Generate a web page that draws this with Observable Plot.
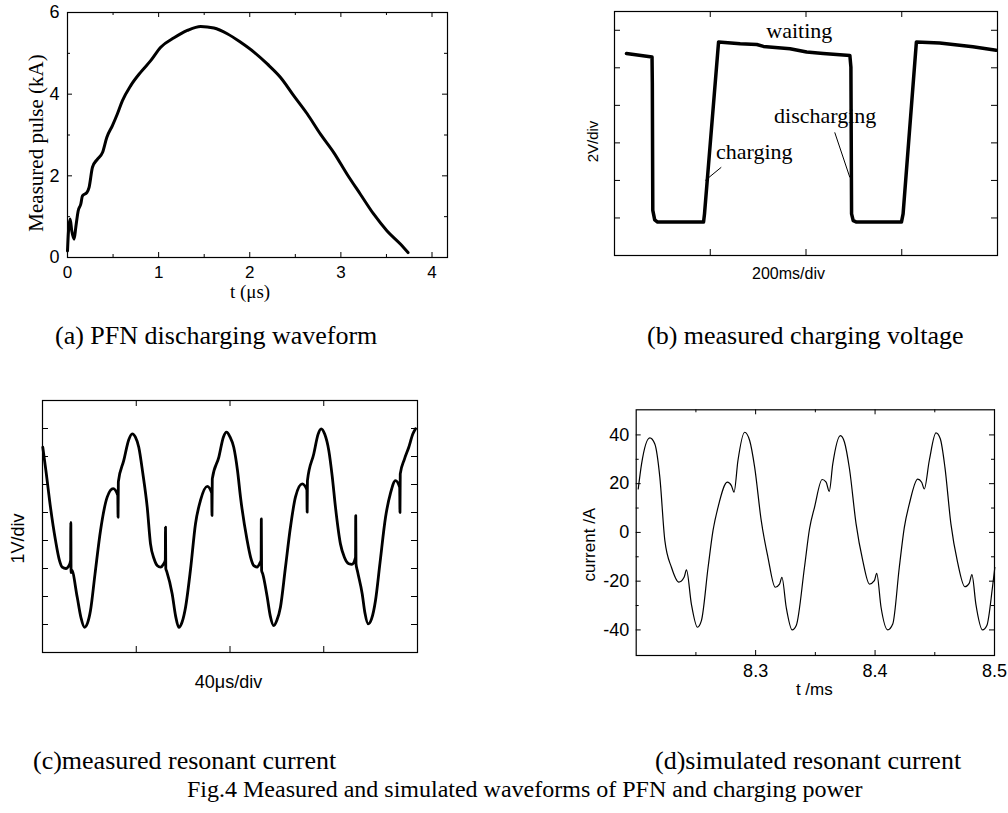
<!DOCTYPE html>
<html><head><meta charset="utf-8">
<script src="https://cdn.jsdelivr.net/npm/d3@7"></script>
<script src="https://cdn.jsdelivr.net/npm/@observablehq/plot@0.6"></script>
<style>
body{margin:0;background:#fff;}
#page{position:relative;width:1008px;height:813px;overflow:hidden;background:#fff;}
.panel{position:absolute;}
.cap{position:absolute;font-family:"Liberation Serif","Times New Roman",serif;font-size:26px;line-height:26px;white-space:nowrap;color:#000;}
</style></head><body><div id="page"></div>
<script>
// ---------- Panel (a): PFN discharging waveform ----------
const aTime = [0, 0.011, 0.029, 0.047, 0.073, 0.091, 0.117, 0.146, 0.164, 0.212, 0.237, 0.274, 0.329, 0.384, 0.431, 0.493, 0.548, 0.603, 0.694, 0.804, 0.913, 1.023, 1.169, 1.315, 1.461, 1.607, 1.753, 1.9, 2.046, 2.192, 2.338, 2.484, 2.63, 2.776, 2.922, 3.068, 3.214, 3.361, 3.507, 3.653, 3.737];
const aPulse = [0.16, 0.65, 0.94, 0.65, 0.45, 0.74, 1.14, 1.31, 1.51, 1.59, 1.72, 2.21, 2.41, 2.57, 2.94, 3.23, 3.52, 3.84, 4.21, 4.54, 4.82, 5.15, 5.38, 5.56, 5.66, 5.62, 5.48, 5.27, 5.03, 4.74, 4.41, 3.96, 3.52, 3.02, 2.57, 2.04, 1.55, 1.06, 0.65, 0.33, 0.12];
const aXMajor = [0, 1, 2, 3, 4];
const aXMinor = [0.5, 1.5, 2.5, 3.5];
const aYMajor = [0, 2, 4, 6];
const aYMinor = [1, 3, 5];

// ---------- Panel (b): measured charging voltage (divisions) ----------
const bDiv = [0.125, 0.392, 0.395, 0.40, 0.42, 0.45, 0.93, 0.94, 1.087, 1.3125, 1.486, 1.556, 1.833, 2.007, 2.18, 2.458, 2.469, 2.476, 2.493, 2.528, 2.997, 3.014, 3.153, 3.396, 3.743, 3.986];
const bVolt = [5.38, 5.29, 4.6, 1.2, 0.95, 0.89, 0.89, 1.11, 5.69, 5.64, 5.62, 5.57, 5.51, 5.42, 5.38, 5.33, 5.02, 1.11, 0.93, 0.89, 0.89, 1.11, 5.69, 5.66, 5.56, 5.47];
const bXTicks = [1, 2, 3];
const bYTicks = [1, 2, 3, 4, 5, 6];
const bNotes = ["waiting", "discharging", "charging"];
const bNoteX = [1.93, 2.20, 1.46];
const bNoteY = [5.97, 3.71, 2.77];
const bLeadX1 = [0.948, 2.30];
const bLeadY1 = [2.0, 3.28];
const bLeadX2 = [1.115, 2.458];
const bLeadY2 = [2.35, 2.08];

// ---------- Panel (c): measured resonant current (divisions) ----------
const cDiv = [0.003, 0.04, 0.085, 0.139, 0.18, 0.21, 0.25, 0.285, 0.300, 0.302, 0.305, 0.31, 0.37, 0.41, 0.448, 0.48, 0.512, 0.56, 0.619, 0.69, 0.754, 0.803, 0.806, 0.809, 0.867, 0.92, 0.957, 0.99, 1.027, 1.07, 1.117, 1.152, 1.19, 1.223, 1.26, 1.29, 1.31, 1.312, 1.315, 1.325, 1.383, 1.42, 1.454, 1.49, 1.526, 1.58, 1.632, 1.685, 1.757, 1.805, 1.808, 1.811, 1.881, 1.93, 1.963, 2.0, 2.04, 2.08, 2.112, 2.183, 2.22, 2.254, 2.29, 2.32, 2.332, 2.334, 2.337, 2.35, 2.397, 2.43, 2.467, 2.50, 2.538, 2.59, 2.645, 2.698, 2.77, 2.82, 2.823, 2.826, 2.894, 2.94, 2.973, 3.01, 3.054, 3.09, 3.125, 3.178, 3.22, 3.267, 3.30, 3.339, 3.341, 3.344, 3.36, 3.41, 3.44, 3.474, 3.51, 3.552, 3.60, 3.659, 3.712, 3.765, 3.81, 3.813, 3.816, 3.86, 3.907, 3.95, 3.979];
const cVolt = [7.33, 6.4, 5.19, 4.0, 3.3, 3.05, 3.0, 3.12, 3.3, 4.65, 2.85, 2.95, 1.98, 1.25, 0.90, 1.05, 1.5, 2.8, 4.36, 5.55, 5.85, 5.61, 4.83, 6.1, 6.86, 7.6, 7.81, 7.7, 7.33, 6.4, 5.19, 3.88, 3.35, 3.11, 3.05, 3.15, 3.3, 4.48, 3.0, 2.9, 2.10, 1.3, 0.90, 1.1, 1.62, 3.0, 4.6, 5.43, 5.93, 5.69, 4.89, 6.2, 6.98, 7.7, 7.87, 7.7, 7.33, 6.5, 5.55, 4.0, 3.4, 3.1, 3.05, 3.2, 3.29, 4.77, 2.93, 2.8, 1.98, 1.3, 0.96, 1.15, 1.62, 3.0, 4.48, 5.55, 6.02, 5.81, 5.01, 6.14, 7.1, 7.8, 7.99, 7.8, 7.21, 6.3, 5.19, 3.88, 3.4, 3.17, 3.15, 3.4, 4.89, 3.17, 2.9, 2.10, 1.4, 1.02, 1.2, 1.86, 3.2, 4.83, 5.69, 6.14, 5.9, 5.0, 6.38, 6.9, 7.33, 7.8, 7.99];
const cXTicks = [1, 2, 3];
const cYTicks = [1, 2, 3, 4, 5, 6, 7, 8];

// ---------- Panel (d): simulated resonant current ----------
const dTime = [8.2017, 8.2045, 8.2114, 8.2156, 8.2198, 8.224, 8.2295, 8.2357, 8.2401, 8.2421, 8.2462, 8.2513, 8.2546, 8.2602, 8.2643, 8.2685, 8.2763, 8.2797, 8.2819, 8.2852, 8.2908, 8.295, 8.2992, 8.3047, 8.3103, 8.3164, 8.32, 8.322, 8.3256, 8.3306, 8.334, 8.3409, 8.3451, 8.3493, 8.3557, 8.359, 8.3616, 8.3646, 8.371, 8.3744, 8.3786, 8.3841, 8.3897, 8.3953, 8.3994, 8.4014, 8.405, 8.4106, 8.4148, 8.4203, 8.4245, 8.4287, 8.4357, 8.439, 8.4412, 8.4454, 8.451, 8.4546, 8.4585, 8.4635, 8.4691, 8.4752, 8.4788, 8.4811, 8.4844, 8.49, 8.4936, 8.4983, 8.5003];
const dCurrent = [17.8, 28.1, 38.8, 36.3, 22.6, -3.4, -14.3, -20.4, -18.4, -15.4, -29.4, -38.9, -36.2, -14.3, 0.7, 10.3, 20.6, 19.2, 16.5, 29.5, 41.1, 37.7, 26.7, 4.8, -10.2, -22.5, -21.2, -18.4, -30.7, -40.0, -38.2, -14.3, 1.4, 10.3, 21.7, 20.6, 16.8, 28.1, 39.7, 37.0, 26.0, 3.5, -11.6, -21.2, -19.8, -16.8, -30.7, -40.0, -37.6, -14.3, 2.1, 11.7, 21.9, 20.6, 17.8, 29.5, 40.8, 38.4, 26.7, 3.5, -12.3, -22.3, -20.9, -17.3, -29.4, -40.0, -38.2, -22.5, -14.3];
const dXMajor = [8.3, 8.4, 8.5];
const dXMinor = [8.25, 8.35, 8.45];
const dYMajor = [-40, -20, 0, 20, 40];
const dYMinor = [-30, -10, 10, 30];

// ---------- Text ----------
const captions = ["(a) PFN discharging waveform", "(b) measured charging voltage", "(c)measured resonant current", "(d)simulated resonant current", "Fig.4 Measured and simulated waveforms of PFN and charging power"];

const SANS = "Liberation Sans, Arial, sans-serif";
const SERIF = "Liberation Serif, Times New Roman, serif";
const page = document.getElementById("page");

function inwardTicks(xs, ys, len, innerW, innerH) {
  const marks = [];
  if (xs && xs.length) {
    marks.push(Plot.tickX(xs, {x: d => d, insetTop: innerH - len, stroke: "black", strokeWidth: 1}));
    marks.push(Plot.tickX(xs, {x: d => d, insetBottom: innerH - len, stroke: "black", strokeWidth: 1}));
  }
  if (ys && ys.length) {
    marks.push(Plot.tickY(ys, {y: d => d, insetRight: innerW - len, stroke: "black", strokeWidth: 1}));
    marks.push(Plot.tickY(ys, {y: d => d, insetLeft: innerW - len, stroke: "black", strokeWidth: 1}));
  }
  return marks;
}

function yTitle(t, dx, dy, family, size) {
  return Plot.text([t], {frameAnchor: "left", dx, dy, rotate: -90, text: d => d, fontFamily: family, fontSize: size, textAnchor: "middle", lineAnchor: "middle"});
}
function xTitle(t, dx, dy, family, size) {
  return Plot.text([t], {frameAnchor: "bottom", dx, dy, text: d => d, fontFamily: family, fontSize: size, textAnchor: "middle", lineAnchor: "top"});
}

function place(svg, left, top) {
  const div = document.createElement("div");
  div.className = "panel";
  div.style.left = left + "px";
  div.style.top = top + "px";
  div.appendChild(svg);
  page.appendChild(div);
}

// Panel (a)
{
  const W = 460, H = 306, m = {l: 67, r: 13, t: 12, b: 49};
  const iw = W - m.l - m.r, ih = H - m.t - m.b;
  const svg = Plot.plot({
    width: W, height: H, marginLeft: m.l, marginRight: m.r, marginTop: m.t, marginBottom: m.b,
    style: {fontFamily: SANS, fontSize: "17px", background: "white", color: "black"},
    x: {domain: [0, 4.17]}, y: {domain: [0, 6]},
    marks: [
      ...inwardTicks(aXMajor, aYMajor, 5, iw, ih),
      ...inwardTicks(aXMinor, aYMinor, 3, iw, ih),
      Plot.axisX({ticks: aXMajor, tickSize: 0, tickPadding: 8, tickFormat: d => String(d), label: null, fontSize: 17}),
      Plot.axisY({ticks: aYMajor, tickSize: 0, tickPadding: 8, tickFormat: d => String(d), label: null, fontSize: 18}),
      Plot.line(aTime.map((t, i) => [t, aPulse[i]]), {x: d => d[0], y: d => d[1], stroke: "black", strokeWidth: 3, curve: "monotone-x"}),
      Plot.frame({stroke: "black", strokeWidth: 1.2}),
      yTitle("Measured pulse (kA)", -31.5, 8, SERIF, 21),
      xTitle("t (\u03bcs)", -7.5, 27, SERIF, 19)
    ]
  });
  place(svg, 0, 0);
}

// Panel (b)
{
  const W = 438, H = 300, m = {l: 44, r: 11, t: 11, b: 45};
  const iw = W - m.l - m.r, ih = H - m.t - m.b;
  const svg = Plot.plot({
    width: W, height: H, marginLeft: m.l, marginRight: m.r, marginTop: m.t, marginBottom: m.b,
    style: {fontFamily: SANS, fontSize: "16px", background: "white", color: "black"},
    x: {domain: [0, 4], axis: null}, y: {domain: [0, 6.5], axis: null},
    marks: [
      ...inwardTicks(bXTicks, bYTicks, 6, iw, ih),
      Plot.line(bDiv.map((t, i) => [t, bVolt[i]]), {x: d => d[0], y: d => d[1], stroke: "black", strokeWidth: 3.5}),
      Plot.link(bLeadX1.map((_, i) => i), {x1: i => bLeadX1[i], y1: i => bLeadY1[i], x2: i => bLeadX2[i], y2: i => bLeadY2[i], stroke: "black", strokeWidth: 1}),
      Plot.text(bNotes, {x: (d, i) => bNoteX[i], y: (d, i) => bNoteY[i], text: d => d, fontFamily: SERIF, fontSize: 22, lineAnchor: "middle"}),
      Plot.frame({stroke: "black", strokeWidth: 1.2}),
      yTitle("2V/div", -21, 8, SANS, 15),
      xTitle("200ms/div", -17.5, 12, SANS, 16)
    ]
  });
  place(svg, 570, 0);
}

// Panel (c)
{
  const W = 460, H = 330, m = {l: 42, r: 43, t: 20, b: 58};
  const iw = W - m.l - m.r, ih = H - m.t - m.b;
  const svg = Plot.plot({
    width: W, height: H, marginLeft: m.l, marginRight: m.r, marginTop: m.t, marginBottom: m.b,
    style: {fontFamily: SANS, fontSize: "18px", background: "white", color: "black"},
    x: {domain: [0, 4], axis: null}, y: {domain: [0, 9], axis: null},
    marks: [
      ...inwardTicks(cXTicks, cYTicks, 6, iw, ih),
      Plot.line(cDiv.map((t, i) => [t, cVolt[i]]), {x: d => d[0], y: d => d[1], stroke: "black", strokeWidth: 2.8, curve: "monotone-x"}),
      Plot.frame({stroke: "black", strokeWidth: 1.2}),
      yTitle("1V/div", -24, 12, SANS, 18),
      xTitle("40\u03bcs/div", -1.5, 23, SANS, 18)
    ]
  });
  place(svg, 0, 380);
}

// Panel (d)
{
  const W = 438, H = 330, m = {l: 65.7, r: 14, t: 29.3, b: 55};
  const iw = W - m.l - m.r, ih = H - m.t - m.b;
  const svg = Plot.plot({
    width: W, height: H, marginLeft: m.l, marginRight: m.r, marginTop: m.t, marginBottom: m.b,
    style: {fontFamily: SANS, fontSize: "18px", background: "white", color: "black"},
    x: {domain: [8.2, 8.5]}, y: {domain: [-50.5, 50.3]},
    marks: [
      ...inwardTicks(dXMajor, dYMajor, 5, iw, ih),
      ...inwardTicks(dXMinor, dYMinor, 3, iw, ih),
      Plot.axisX({ticks: dXMajor, tickSize: 0, tickPadding: 9, tickFormat: d => String(d), label: null, fontSize: 18}),
      Plot.axisY({ticks: dYMajor, tickSize: 0, tickPadding: 7, tickFormat: d => String(d), label: null, fontSize: 18}),
      Plot.line(dTime.map((t, i) => [t, dCurrent[i]]), {x: d => d[0], y: d => d[1], stroke: "black", strokeWidth: 1.2, curve: "monotone-x"}),
      Plot.frame({stroke: "black", strokeWidth: 1.2}),
      yTitle("current /A", -47, 12, SANS, 17),
      xTitle("t /ms", -1, 27, SANS, 17)
    ]
  });
  place(svg, 570, 380);
}

// Captions
const capPos = [[55, 323], [647, 323], [33, 748], [655, 748], [187, 776]];
captions.forEach((t, i) => {
  const d = document.createElement("div");
  d.className = "cap";
  d.textContent = t;
  d.style.left = capPos[i][0] + "px";
  d.style.top = capPos[i][1] + "px";
  if (i === 4) d.style.fontSize = "24px";
  page.appendChild(d);
});
</script>
</body></html>
